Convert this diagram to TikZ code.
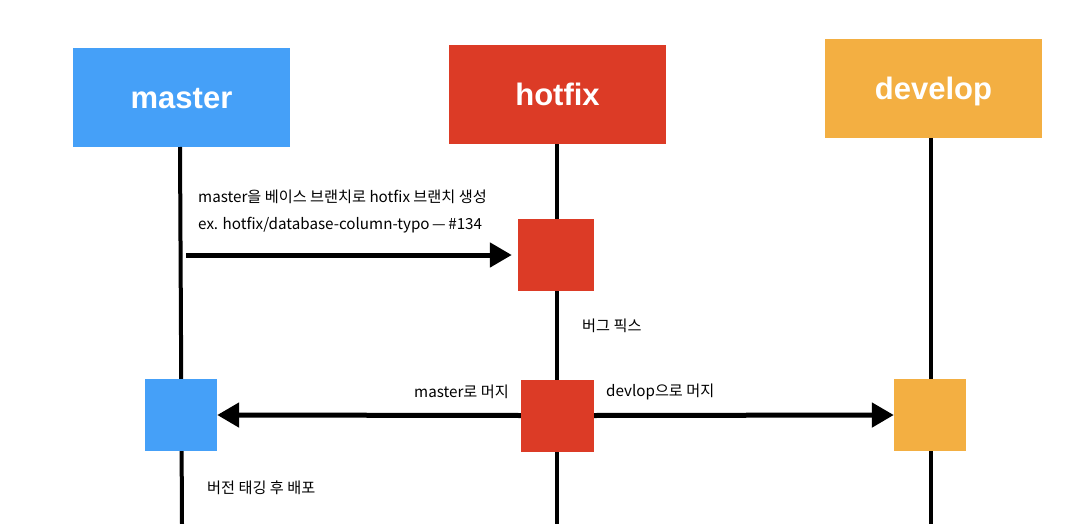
\documentclass[tikz,border=0pt]{standalone}
\usepackage{fontspec}
\setmainfont{Liberation Sans}
\newfontfamily\kr{Noto Sans CJK KR}
\usetikzlibrary{arrows.meta}
\definecolor{mblue}{HTML}{45A0F8}
\definecolor{hred}{HTML}{DC3B26}
\definecolor{dorange}{HTML}{F3AF42}
\begin{document}
\begin{tikzpicture}[x=1pt,y=-1pt,
  head/.style={minimum width=217pt,minimum height=99pt,inner sep=0pt,text=white,font=\fontsize{31}{31}\selectfont\bfseries,text height=22pt,text depth=0pt},
  act/.style={minimum width=72pt,minimum height=72pt,inner sep=0pt},
  life/.style={line width=4pt},
  msg/.style={line width=5pt,-{Triangle[length=22pt,width=24pt]}},
  lbl/.style={inner sep=0pt,font=\kr\fontsize{15.2}{15.2}\selectfont}]
\useasboundingbox (0,0) rectangle (1081,524);
\node[head,fill=mblue] (master) at (181.5,97.5) {master};
\node[head,fill=hred] (hotfix) at (557.5,94.5) {hotfix};
\node[head,fill=dorange] (develop) at (933.5,88.5) {develop};
\coordinate (mend) at (182,524);
\coordinate (hend) at (557,524);
\coordinate (dend) at (931,524);
\draw[life] (180,147) -- (mend);
\draw[life] (557,144) -- (hend);
\draw[life] (931,138) -- (dend);
\node[act,fill=hred,minimum width=76pt] (h1) at (556,255) {};
\node[act,fill=hred,minimum width=73pt] (h2) at (557.5,415.5) {};
\node[act,fill=mblue] (m1) at (181,415) {};
\node[act,fill=dorange] (d1) at (930,415) {};
\coordinate (a1s) at (186,255);
\draw[msg] (a1s) -- ([xshift=-6pt]h1.west);
\draw[msg] (h2.west) -- (m1.east);
\draw[msg] (h2.east) -- (d1.west);
\node[lbl,anchor=west] (t1) at (198,197) {master을 베이스 브랜치로 hotfix 브랜치 생성};
\node[lbl,anchor=west] (t2) at (198,225) {ex. hotfix/database-column-typo\,—\,\#134};
\node[lbl,anchor=west] (t3) at (582,326) {버그 픽스};
\node[lbl,anchor=east] (t4) at (509,392) {master로 머지};
\node[lbl,anchor=west] (t5) at (606,392) {devlop으로 머지};
\node[lbl,anchor=west] (t6) at (207,488) {버전 태깅 후 배포};
\end{tikzpicture}
\end{document}
